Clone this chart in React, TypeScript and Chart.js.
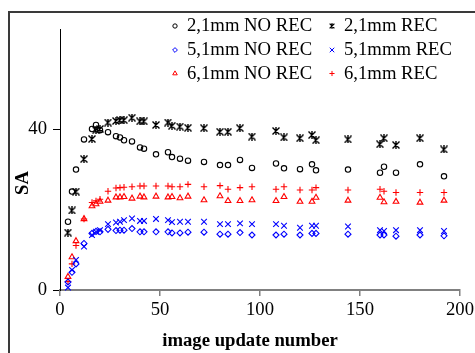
import { useEffect, useRef } from "react";
import { Chart, registerables } from "chart.js";
import { drawPoint } from "chart.js/helpers";

Chart.register(...registerables);

// Image update numbers at which SA was sampled
const updateNumbers = [
  4, 6, 8, 12, 16, 18, 20, 24, 28, 30, 32, 36, 40, 42, 48, 54, 56, 60, 64, 72,
  80, 84, 90, 96, 108, 112, 120, 126, 128, 144, 160, 162, 168, 180, 192,
];

const sa21NoRec = [
  17.0, 24.5, 30.0, 37.5, 40.1, 41.1, 39.8, 39.3, 38.3, 38.0, 37.3, 37.0, 35.5, 35.2, 33.8, 34.3, 33.1, 32.7, 32.2, 31.9,
  31.1, 31.1, 32.4, 30.4, 31.5, 30.3, 30.1, 31.3, 29.8, 30.0, 29.2, 30.7, 29.2, 31.3, 28.3,
];
const sa21Rec = [
  14.3, 19.8, 24.5, 32.6, 37.6, 39.8, 40.1, 41.7, 42.1, 42.3, 42.3, 42.9, 42.0, 42.0, 41.1, 41.7, 40.9, 40.7, 40.4, 40.3,
  39.4, 39.4, 40.3, 38.2, 39.6, 38.0, 37.8, 38.6, 37.3, 37.5, 36.3, 37.8, 36.1, 37.8, 35.0,
];
const sa51NoRec = [
  2.0, 4.4, 6.5, 11.6, 14.1, 14.6, 14.5, 15.1, 14.8, 14.9, 14.9, 15.3, 14.5, 14.5, 14.5, 14.5, 14.2, 14.2, 14.4, 14.4,
  13.9, 13.9, 14.3, 13.7, 13.7, 13.9, 13.7, 14.1, 14.1, 13.9, 13.7, 13.7, 13.4, 13.7, 13.5,
];
const sa51Rec = [
  0.6, 5.0, 7.5, 10.8, 13.7, 14.5, 14.9, 16.4, 16.8, 17.0, 17.4, 17.8, 17.2, 17.2, 17.7, 17.4, 16.9, 17.0, 17.0, 17.0,
  16.4, 16.4, 16.6, 16.4, 16.4, 16.0, 15.5, 16.0, 16.0, 15.8, 14.9, 14.7, 14.9, 14.9, 14.7,
];
const sa61NoRec = [
  3.3, 8.2, 12.2, 17.7, 20.9, 21.4, 22.0, 22.3, 23.1, 23.1, 23.2, 22.8, 23.3, 23.1, 23.3, 23.1, 23.2, 22.9, 23.3, 22.4,
  23.4, 22.2, 22.2, 22.4, 22.2, 23.2, 22.0, 22.0, 23.0, 22.3, 23.0, 21.9, 22.0, 21.8, 22.3,
];
const sa61Rec = [
  2.1, 6.5, 11.1, 17.7, 21.8, 22.2, 22.6, 24.6, 25.4, 25.5, 25.6, 25.7, 25.9, 25.9, 25.9, 25.9, 25.7, 25.7, 26.3, 25.7,
  26.0, 25.1, 25.5, 25.7, 25.1, 25.7, 24.9, 24.9, 25.5, 24.9, 25.1, 24.6, 24.3, 24.3, 24.3,
];

const seriesLabels = [
  "2,1mm NO REC",
  "2,1mm REC",
  "5,1mm NO REC",
  "5,1mmm REC",
  "6,1mm NO REC",
  "6,1mm REC",
];

const xTicks = [0, 50, 100, 150, 200];
const yTicks = [0, 40];

const SERIF = '"Liberation Serif", "Times New Roman", serif';
const FONT_SIZE = 18.7;

// Six-spoked star marker (an x with a vertical bar)
function makeStar(size: number, color: string, width: number): HTMLCanvasElement {
  const c = document.createElement("canvas");
  c.width = size;
  c.height = size;
  const g = c.getContext("2d")!;
  g.strokeStyle = color;
  g.lineWidth = width;
  g.lineCap = "square";
  g.beginPath();
  g.moveTo(1, 1);
  g.lineTo(size - 1, size - 1);
  g.moveTo(size - 1, 1);
  g.lineTo(1, size - 1);
  g.moveTo(size / 2, 0.5);
  g.lineTo(size / 2, size - 0.5);
  g.stroke();
  return c;
}

function toPoints(ys: number[]) {
  return ys.map((y, i) => ({ x: updateNumbers[i], y }));
}

export default function App() {
  const canvasRef = useRef<HTMLCanvasElement | null>(null);

  useEffect(() => {
    document.body.style.margin = "0";
    const canvas = canvasRef.current;
    if (!canvas) return;

    const star = makeStar(8, "#000000", 1.4);
    const legendStar = makeStar(6, "#000000", 1.1);

    const styles = [
      { pointStyle: "circle", color: "#000000", radius: 2.7 },
      { pointStyle: star, color: "#000000", radius: 3.5 },
      { pointStyle: "rectRot", color: "#0000ff", radius: 3.0 },
      { pointStyle: "crossRot", color: "#0000ff", radius: 4.0 },
      { pointStyle: "triangle", color: "#ff0000", radius: 3.3 },
      { pointStyle: "cross", color: "#ff0000", radius: 3.2 },
    ];
    const values = [sa21NoRec, sa21Rec, sa51NoRec, sa51Rec, sa61NoRec, sa61Rec];

    const datasets = values.map((ys, i) => ({
      label: seriesLabels[i],
      data: toPoints(ys),
      showLine: false,
      pointStyle: styles[i].pointStyle as any,
      pointRadius: styles[i].radius,
      pointBorderColor: styles[i].color,
      pointBackgroundColor: "rgba(0,0,0,0)",
      pointBorderWidth: 1.1,
      clip: false as any,
    }));

    // Outer frame around the whole figure
    const framePlugin = {
      id: "frame",
      beforeDraw(chart: Chart) {
        const ctx = chart.ctx;
        ctx.save();
        ctx.strokeStyle = "#3a3a3a";
        ctx.lineWidth = 2;
        ctx.strokeRect(9, 12, 600, 400);
        ctx.restore();
      },
    };

    // Axis titles
    const titlesPlugin = {
      id: "axisTitles",
      afterDraw(chart: Chart) {
        const ctx = chart.ctx;
        ctx.save();
        ctx.fillStyle = "#000";
        ctx.font = `bold ${FONT_SIZE}px ${SERIF}`;
        ctx.textAlign = "center";
        ctx.textBaseline = "middle";
        ctx.fillText("image update number", 250, 341);
        ctx.translate(23, 183);
        ctx.rotate(-Math.PI / 2);
        ctx.fillText("SA", 0, 0);
        ctx.restore();
      },
    };

    // Two-column legend inside the plot
    const legendPlugin = {
      id: "gridLegend",
      afterDatasetsDraw(chart: Chart) {
        const ctx = chart.ctx;
        const markerX = [175, 332];
        const rowY = [26, 50, 73.5];
        ctx.save();
        ctx.font = `${FONT_SIZE}px ${SERIF}`;
        ctx.textBaseline = "middle";
        ctx.textAlign = "left";
        chart.data.datasets.forEach((ds: any, i: number) => {
          const col = i % 2;
          const row = Math.floor(i / 2);
          const x = markerX[col];
          const y = rowY[row];
          const style = typeof ds.pointStyle === "string" ? ds.pointStyle : legendStar;
          ctx.fillStyle = "rgba(0,0,0,0)";
          ctx.strokeStyle = ds.pointBorderColor;
          ctx.lineWidth = 1;
          drawPoint(ctx, { pointStyle: style, radius: ds.pointRadius * 0.8, rotation: 0, borderWidth: 1 } as any, x, y);
          ctx.fillStyle = "#000";
          ctx.fillText(ds.label, x + 12, y + 0.5);
        });
        ctx.restore();
      },
    };

    const chart = new Chart(canvas, {
      type: "scatter",
      data: { datasets },
      options: {
        animation: false,
        responsive: false,
        devicePixelRatio: 1,
        layout: { padding: { left: 0, right: 15, top: 29, bottom: 0 } },
        plugins: {
          legend: { display: false },
          tooltip: { enabled: false },
        },
        scales: {
          x: {
            type: "linear",
            position: "bottom",
            min: 0,
            max: 200,
            afterBuildTicks: (s: any) => {
              s.ticks = xTicks.map((v) => ({ value: v }));
            },
            afterFit: (s: any) => {
              s.height = 63;
              s.paddingLeft = 0;
              s.paddingRight = 0;
            },
            border: { color: "#808080", width: 2 },
            grid: { drawOnChartArea: false, drawTicks: true, tickLength: 6, color: "#808080", lineWidth: 1.5 },
            ticks: {
              font: { family: SERIF, size: FONT_SIZE },
              color: "#000",
              padding: 3,
              maxRotation: 0,
              autoSkip: false,
            },
          },
          y: {
            type: "linear",
            min: 0,
            max: 65,
            afterBuildTicks: (s: any) => {
              s.ticks = yTicks.map((v) => ({ value: v }));
            },
            afterFit: (s: any) => {
              s.width = 60;
              s.paddingTop = 0;
              s.paddingBottom = 0;
            },
            border: { color: "#000", width: 1 },
            grid: { drawOnChartArea: false, drawTicks: true, tickLength: 7, color: "#000" },
            ticks: {
              font: { family: SERIF, size: FONT_SIZE },
              color: "#000",
              padding: 6,
            },
          },
        },
      },
      plugins: [framePlugin, titlesPlugin, legendPlugin],
    });

    return () => chart.destroy();
  }, []);

  return (
    <div style={{ position: "relative", width: 475, height: 353 }}>
      <canvas ref={canvasRef} width={475} height={353} />
    </div>
  );
}
